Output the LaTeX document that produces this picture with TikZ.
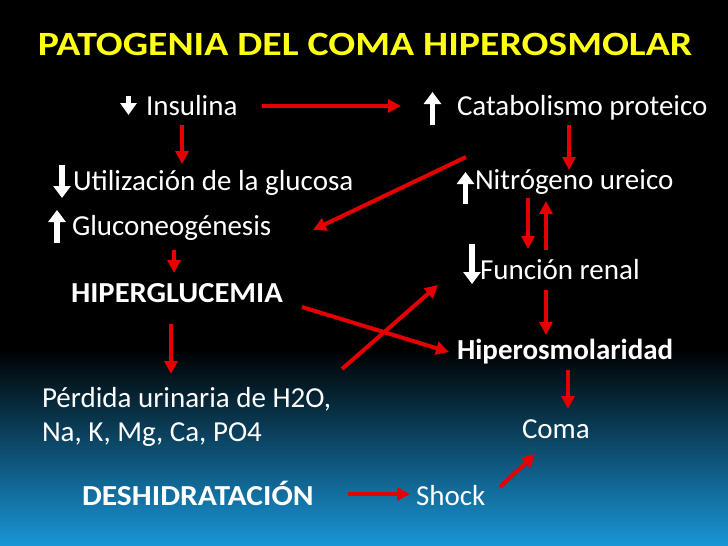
\documentclass[tikz,border=0pt]{standalone}
\usepackage{fontspec}
\setmainfont{Carlito}
\usetikzlibrary{arrows.meta,shadings}
\definecolor{ttl}{RGB}{255,255,20}
\definecolor{rd}{RGB}{228,0,0}
\definecolor{bot}{RGB}{25,150,215}
\tikzset{
  txt/.style={anchor=base west, inner sep=0pt, outer sep=0pt, text=white, font=\fontsize{29}{31}\selectfont},
  btxt/.style={txt, font=\fontsize{29}{31}\selectfont\bfseries},
  ttlnode/.style={anchor=base, inner sep=0pt, xscale=1.17, font=\fontsize{34}{36}\selectfont\bfseries},
  rarrow/.style={draw=rd, line width=4pt, -{Triangle[width=13pt,length=13pt]}},
  warrow/.style={draw=white, line width=5.5pt, -{Triangle[width=17pt,length=12pt]}},
}
\begin{document}
\begin{tikzpicture}[x=1pt,y=-1pt]
\useasboundingbox (0,0) rectangle (728,546);
\fill[black] (0,0) rectangle (728,350);
\shade[top color=black, bottom color=bot] (0,349) rectangle (728,546);
% title
\node[ttlnode, text=ttl] (title) at (365,55) {PATOGENIA DEL COMA HIPEROSMOLAR};
% text nodes
\node[txt] (ins) at (146,115) {Insulina};
\node[txt] (cat) at (457,115) {Catabolismo proteico};
\node[txt] (util) at (73,190) {Utilización de la glucosa};
\node[txt] (nit) at (475,189) {Nitrógeno ureico};
\node[txt] (gluco) at (72,235) {Gluconeogénesis};
\node[txt] (func) at (480,279) {Función renal};
\node[btxt, xscale=1.055] (hiperg) at (71,302) {HIPERGLUCEMIA};
\node[btxt] (hiperos) at (457,359) {Hiperosmolaridad};
\node[txt] (perd) at (42,407) {Pérdida urinaria de H2O,};
\node[txt] (na) at (42,441) {Na, K, Mg, Ca, PO4};
\node[txt] (coma) at (522,438) {Coma};
\node[btxt, xscale=1.088] (desh) at (82,505) {DESHIDRATACIÓN};
\node[txt] (shock) at (416,505) {Shock};
% white block arrows
\draw[draw=white, line width=5pt, -{Triangle[width=16pt,length=12pt]}] (128.5,96) -- (128.5,115);
\draw[warrow] (62,165) -- (62,198);
\draw[warrow] (57,243) -- (57,210);
\draw[warrow] (432.5,125) -- (432.5,92);
\draw[warrow] (465.5,204) -- (465.5,172);
\draw[warrow] (472,244) -- (472,284);
% connector end points
\coordinate (a1) at (262,106);  \coordinate (b1) at (401,106);
\coordinate (a2) at (182,125);  \coordinate (b2) at (182,164);
\coordinate (a3) at (569,125);  \coordinate (b3) at (569,170);
\coordinate (a4) at (466,157);  \coordinate (b4) at (313,230);
\coordinate (a5) at (528,198);  \coordinate (b5) at (528,249);
\coordinate (a6) at (546,250);  \coordinate (b6) at (546,201);
\coordinate (a7) at (546,290);  \coordinate (b7) at (546,335);
\coordinate (a8) at (568,370);  \coordinate (b8) at (568,409);
\coordinate (a9) at (174,250);  \coordinate (b9) at (174,273);
\coordinate (a10) at (171,324); \coordinate (b10) at (171,374);
\coordinate (a11) at (302,307); \coordinate (b11) at (449,352);
\coordinate (a12) at (342,369); \coordinate (b12) at (438,285);
\coordinate (a13) at (348,494); \coordinate (b13) at (410,494);
\coordinate (a14) at (500,487); \coordinate (b14) at (535,454);
\foreach \i in {1,...,14} \draw[rarrow] (a\i) -- (b\i);
\end{tikzpicture}
\end{document}
